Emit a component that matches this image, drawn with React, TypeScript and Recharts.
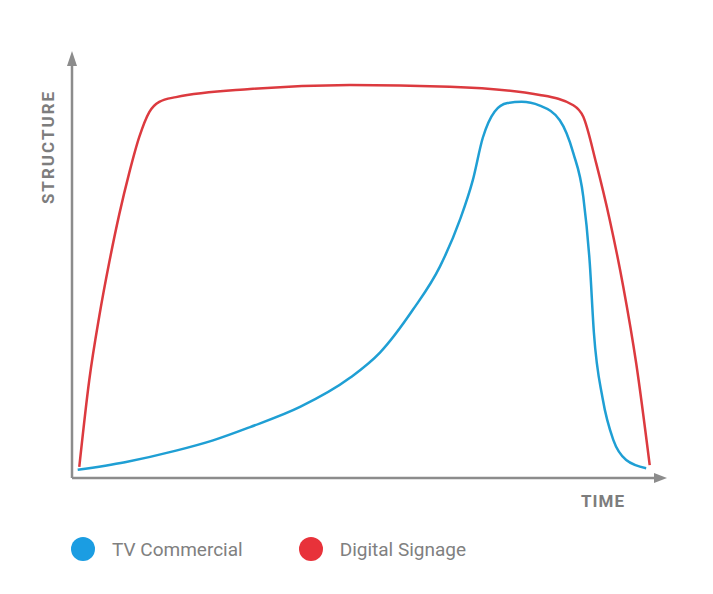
import React from "react";
import {
  Line,
  LineChart,
  ReferenceDot,
  XAxis,
  YAxis,
  Label,
} from "recharts";

// time positions and structure levels (0..100 scale)
const tvTime = [0.97, 9.0, 17.7, 24.0, 30.3, 38.8, 47.3, 52.4, 58.0, 62.6, 66.0, 68.2, 69.9, 71.9, 74.1, 76.5, 79.6, 83.0, 85.3, 87.0, 88.1, 88.8, 90.3, 92.1, 94.3, 97.7];
const tvStructure = [1.9, 3.7, 6.4, 8.8, 11.9, 16.6, 23.4, 29.3, 39.3, 49.4, 60.3, 69.6, 79.5, 85.6, 87.6, 87.9, 87.0, 83.6, 75.9, 65.7, 50.2, 34.0, 18.5, 8.9, 4.2, 2.3];

const dsTime = [1.24, 2.94, 4.64, 6.34, 8.04, 9.74, 11.45, 13.15, 14.85, 17.7, 30.3, 47.3, 64.3, 79.6, 85.3, 87.0, 89.2, 91.5, 93.8, 96.0, 98.3];
const dsStructure = [2.6, 22.9, 37.8, 50.4, 61.6, 71.3, 79.7, 85.5, 87.9, 89.0, 90.9, 91.8, 91.4, 89.5, 87.1, 84.4, 73.5, 60.3, 44.7, 26.8, 3.0];

const xMax = 99.2;
const yMax = 96.5;

const seriesNames = ["TV Commercial", "Digital Signage"];
const seriesColors = ["#1f9fd4", "#dc3a3f"];
const legendColors = ["#1b9de2", "#e8323a"];

const tvData = tvTime.map((t, i) => ({ x: t, y: tvStructure[i] }));
const dsData = dsTime.map((t, i) => ({ x: t, y: dsStructure[i] }));

const axisColor = "#8c8c8c";
const labelColor = "#7d7d7d";

function ChartLegend() {
  return (
    <div
      style={{
        position: "absolute",
        left: 71,
        top: 537,
        display: "flex",
        alignItems: "center",
        fontFamily: "Roboto, sans-serif",
        fontSize: 19,
        color: "#808080",
      }}
    >
      {seriesNames.map((name, i) => (
        <div key={name} style={{ display: "flex", alignItems: "center", marginRight: 56 }}>
          <span
            style={{
              display: "inline-block",
              width: 24,
              height: 24,
              borderRadius: "50%",
              background: legendColors[i],
              marginRight: 17,
            }}
          />
          <span>{name}</span>
        </div>
      ))}
    </div>
  );
}

export default function App() {
  return (
    <div style={{ position: "absolute", left: 0, top: 0, width: 713, height: 594, background: "#fff" }}>
      <LineChart
        width={713}
        height={594}
        margin={{ top: 65, right: 58, bottom: 86, left: 0 }}
      >
        <XAxis
          type="number"
          dataKey="x"
          domain={[0, xMax]}
          tick={false}
          tickLine={false}
          height={30}
          axisLine={{ stroke: axisColor, strokeWidth: 2.5 }}
        >
          <Label
            content={(props: any) => {
              const vb = props.viewBox;
              return (
                <text
                  x={vb.x + vb.width - 30}
                  y={vb.y + 29}
                  textAnchor="end"
                  fill={labelColor}
                  fontFamily="Roboto, sans-serif"
                  fontWeight={700}
                  fontSize={17}
                  letterSpacing={1}
                >
                  TIME
                </text>
              );
            }}
          />
        </XAxis>
        <YAxis
          type="number"
          dataKey="y"
          domain={[0, yMax]}
          tick={false}
          tickLine={false}
          width={72}
          axisLine={{ stroke: axisColor, strokeWidth: 2.5 }}
        >
          <Label
            content={(props: any) => {
              const vb = props.viewBox;
              const lx = vb.x + vb.width - 18;
              const ly = vb.y + 82;
              return (
                <text
                  transform={`translate(${lx},${ly}) rotate(-90)`}
                  textAnchor="middle"
                  fill={labelColor}
                  fontFamily="Roboto, sans-serif"
                  fontWeight={700}
                  fontSize={17}
                  letterSpacing={2}
                >
                  STRUCTURE
                </text>
              );
            }}
          />
        </YAxis>
        <Line
          data={dsData}
          dataKey="y"
          name={seriesNames[1]}
          type="monotone"
          stroke={seriesColors[1]}
          strokeWidth={2.5}
          dot={false}
          isAnimationActive={false}
        />
        <Line
          data={tvData}
          dataKey="y"
          name={seriesNames[0]}
          type="monotone"
          stroke={seriesColors[0]}
          strokeWidth={2.5}
          dot={false}
          isAnimationActive={false}
        />
        <ReferenceDot
          x={xMax}
          y={0}
          ifOverflow="visible"
          shape={(p: any) => (
            <polygon
              points={`${p.cx - 1},${p.cy - 5} ${p.cx + 12},${p.cy} ${p.cx - 1},${p.cy + 5}`}
              fill={axisColor}
            />
          )}
        />
        <ReferenceDot
          x={0}
          y={yMax}
          ifOverflow="visible"
          shape={(p: any) => (
            <polygon
              points={`${p.cx - 5},${p.cy + 1} ${p.cx},${p.cy - 14} ${p.cx + 5},${p.cy + 1}`}
              fill={axisColor}
            />
          )}
        />
      </LineChart>
      <ChartLegend />
    </div>
  );
}
